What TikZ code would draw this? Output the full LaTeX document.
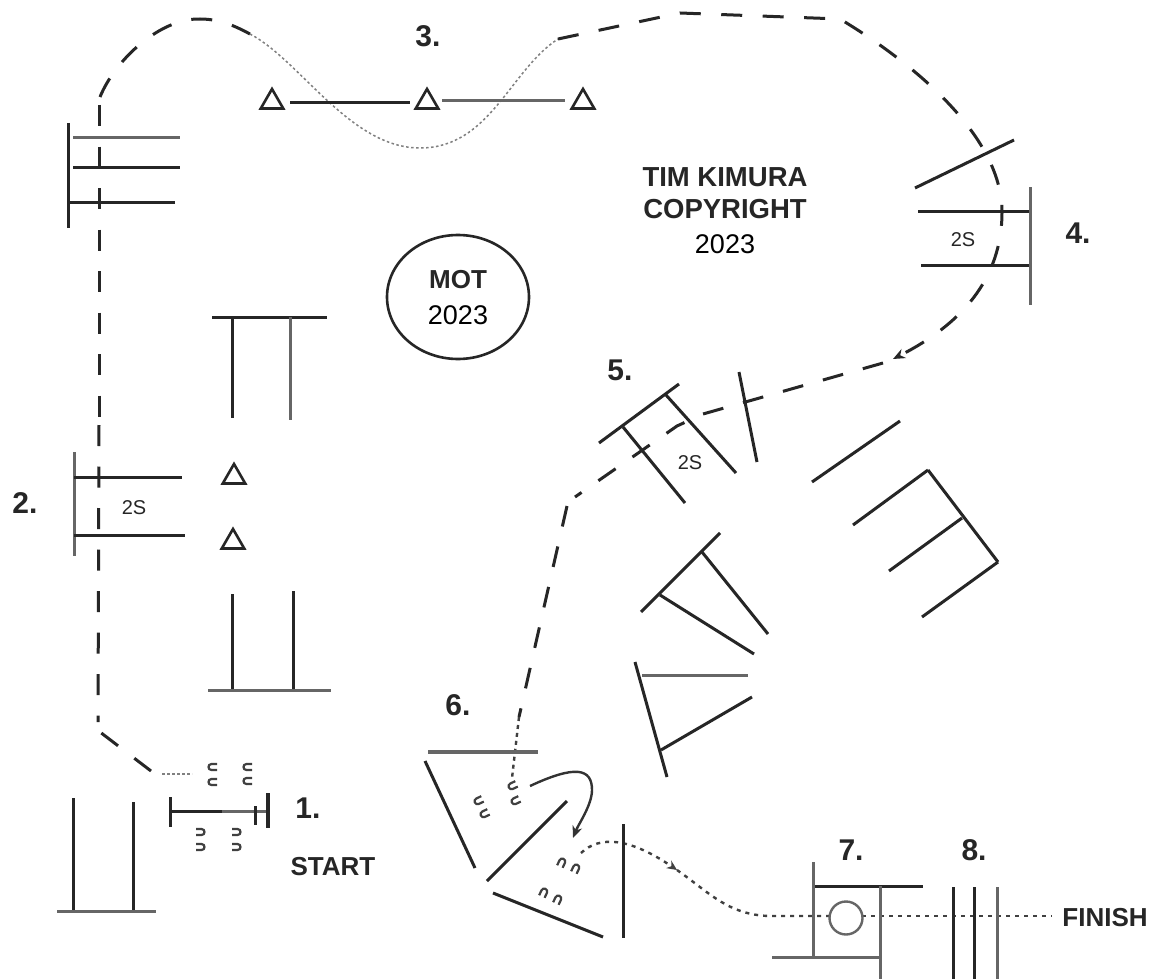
\documentclass[tikz,border=0pt]{standalone}
\usepackage{fontspec}
\setmainfont{Liberation Sans}
\usetikzlibrary{shapes.geometric,arrows.meta}
\tikzset{
	rail/.style={line width=3pt, draw=black!85},
	railgray/.style={line width=3pt, draw=black!60},
	course/.style={line width=3pt, draw=black!85, dash pattern=on 21pt off 20.5pt},
	trail/.style={line width=1.5pt, draw=black!50, dash pattern=on 2.5pt off 2.5pt},
	trailbold/.style={line width=2.4pt, draw=black!75, dash pattern=on 4pt off 5pt},
	cone/.style={draw=black!85, line width=2.6pt, regular polygon, regular polygon sides=3, minimum size=26pt, inner sep=0pt},
	number/.style={font=\fontsize{30}{30}\selectfont\bfseries, text=black!85},
	caption/.style={font=\fontsize{26}{26}\selectfont\bfseries, text=black!85},
	plain/.style={font=\fontsize{27}{27}\selectfont, text=black},
	stride/.style={font=\fontsize{20}{20}\selectfont, text=black!85, inner sep=0pt},
	shoemark/.pic={
		\draw[line width=2.2pt, draw=black!75] (-3,-5) -- (-3,0.5) .. controls (-3,4.5) and (3,4.5) .. (3,0.5) -- (3,-5);
	},
}
\begin{document}
\begin{tikzpicture}[x=1pt,y=-1pt]
	\useasboundingbox (0,0) rectangle (1156,979);
	\fill[white] (0,0) rectangle (1156,979);

	% course
	\coordinate (bendtop) at (200,19);
	\coordinate (bendend) at (250,34);
	\coordinate (wavelow) at (420,148);
	\coordinate (waveend) at (558,39);
	\coordinate (ridge) at (680,13);
	\coordinate (arrow4) at (893,359);
	\coordinate (corner5) at (575,497);
	\coordinate (end6) at (519,717);
	\draw[course] (151,771) -- (100,732);
	\draw[course] (99,425) -- (98,722);
	\draw[course] (99,105) -- (99,417);
	\draw[course] (100,97) .. controls (115,60) and (160,18) .. (bendtop) .. controls (220,19) and (235,26) .. (bendend);
	\draw[trail] (bendend) .. controls (300,60) and (350,148) .. (wavelow) .. controls (490,148) and (510,70) .. (waveend);
	\draw[course,-{Stealth[length=12pt,width=10pt]}] (waveend) -- (ridge) -- (840,19) .. controls (900,55) and (1002,130) .. (1002,212) .. controls (1002,280) and (960,325) .. (arrow4);
	\draw[course] (883,363) -- (703,414) -- (677,426) -- (corner5);
	\draw[course] (567,506) -- (end6);
	\draw[trailbold, dash pattern=on 4pt off 4pt] (end6) -- (512,778);
	\draw[line width=2.4pt, draw=black!80, -{Stealth[length=12pt,width=10pt]}] (530,786) .. controls (575,765) and (592,768) .. (592,790) .. controls (592,805) and (578,825) .. (573,838);
	\draw[trailbold,-{Stealth[length=10pt,width=9pt]}] (581,853) .. controls (600,835) and (630,838) .. (677,870);
	\draw[trailbold] (677,870) .. controls (710,893) and (730,917) .. (775,916) -- (829,916);
	\draw[trailbold] (862,916) -- (1052,916);
	\draw[trail] (162,774) -- (192,774);

	% 1 start
	\draw[rail] (170,797) -- (170,827);
	\draw[rail] (170,811) -- (222,811);
	\draw[railgray] (222,811) -- (267,811);
	\draw[rail] (255,806) -- (255,825);
	\draw[rail, line width=4.5pt] (268,793) -- (268,828);
	\draw[rail] (73,798) -- (73,911);
	\draw[rail] (133,802) -- (133,911);
	\draw[railgray] (57,911) -- (156,911);

	% top left oxer
	\draw[rail] (68,123) -- (68,228);
	\draw[railgray] (73,138) -- (180,138);
	\draw[rail] (73,167) -- (180,167);
	\draw[rail] (68,202) -- (175,202);

	% 2
	\draw[railgray] (74,452) -- (74,556);
	\draw[rail] (74,477) -- (182,477);
	\draw[rail] (74,535) -- (185,535);
	\node[stride] (double2) at (134,508) {2S};
	\draw[rail] (212,317) -- (327,317);
	\draw[rail] (232,317) -- (232,418);
	\draw[railgray] (290,317) -- (290,420);
	\draw[rail] (232,594) -- (232,690);
	\draw[rail] (293,591) -- (293,690);
	\draw[railgray] (208,690) -- (331,690);

	% cones
	\foreach \cx/\cy/\cname in {234/477/conea, 233/542/coneb, 272/102/conec, 427/102/coned, 583/102/conee}
		\node[cone] (\cname) at (\cx,\cy) {};
	\draw[rail] (290,103) -- (410,103);
	\draw[railgray] (442,101) -- (565,101);

	% 4
	\draw[rail] (915,188) -- (1014,140);
	\draw[rail] (918,211) -- (1030,211);
	\draw[rail] (921,265) -- (1030,265);
	\draw[railgray] (1030,187) -- (1030,305);
	\node[stride] (double4) at (963,240) {2S};

	% 5
	\draw[rail] (599,443) -- (679,384);
	\draw[rail] (623,427) -- (685,503);
	\draw[rail] (666,395) -- (736,473);
	\draw[rail] (739,372) -- (757,462);
	\draw[rail] (812,482) -- (900,421);
	\node[stride] (double5) at (690,463) {2S};

	% right element
	\draw[rail] (928,470) -- (998,562);
	\draw[rail] (928,470) -- (853,525);
	\draw[rail] (962,518) -- (889,571);
	\draw[rail] (998,562) -- (922,617);

	% middle elements
	\draw[rail] (641,612) -- (720,533);
	\draw[rail] (702,552) -- (768,634);
	\draw[rail] (660,595) -- (754,654);
	\draw[rail] (635,662) -- (667,777);
	\draw[railgray] (642,675) -- (748,675);
	\draw[rail] (661,750) -- (752,697);

	% 6
	\draw[railgray, line width=3.5pt] (428,752) -- (538,752);
	\draw[rail] (425,761) -- (475,868);
	\draw[rail] (487,881) -- (567,801);
	\draw[rail] (493,893) -- (603,937);
	\draw[rail] (623,824) -- (623,938);

	% 7
	\draw[railgray] (813,862) -- (813,957);
	\draw[rail] (815,886) -- (923,886);
	\draw[railgray] (880,886) -- (880,979);
	\draw[railgray] (772,957) -- (880,957);
	\node[draw=black!60, line width=2.4pt, circle, minimum size=33pt, inner sep=0pt] (water) at (846,918) {};

	% 8
	\draw[rail] (953,887) -- (953,979);
	\draw[rail] (974,887) -- (974,979);
	\draw[railgray] (997,887) -- (997,979);

	% shoes
	\foreach \sx/\sy/\sa in {212/767/-90, 212/782/-90, 247/767/-90, 247/781/-90, 201/832/90, 201/847/90, 237/832/90, 237/847/90, 512/786/-65, 515/801/-65, 478/801/-65, 484/814/-65, 562/862/155, 576/868/155, 544/892/155, 558/899/155}
		\pic[rotate=\sa] at (\sx,\sy) {shoemark};

	% oval and texts
	\node[draw=black!85, line width=2.6pt, ellipse, minimum width=142pt, minimum height=124pt, inner sep=0pt] (oval) at (458,297) {};
	\node[caption] (mot) at (458,280) {MOT};
	\node[plain] (year) at (458,315) {2023};
	\node[caption, font=\fontsize{27.5}{27.5}\selectfont\bfseries] (owner) at (725,177) {TIM KIMURA};
	\node[caption, font=\fontsize{27.5}{27.5}\selectfont\bfseries] (rights) at (725,209) {COPYRIGHT};
	\node[plain] (rightsyear) at (725,244) {2023};
	\node[caption] (start) at (333,867) {START};
	\node[caption] (finish) at (1105,918) {FINISH};

	% numbers
	\node[number] (n1) at (308,808) {1.};
	\node[number] (n2) at (25,503) {2.};
	\node[number] (n3) at (428,36) {3.};
	\node[number] (n4) at (1078,233) {4.};
	\node[number] (n5) at (620,370) {5.};
	\node[number] (n6) at (458,705) {6.};
	\node[number] (n7) at (851,850) {7.};
	\node[number] (n8) at (974,850) {8.};
\end{tikzpicture}
\end{document}
